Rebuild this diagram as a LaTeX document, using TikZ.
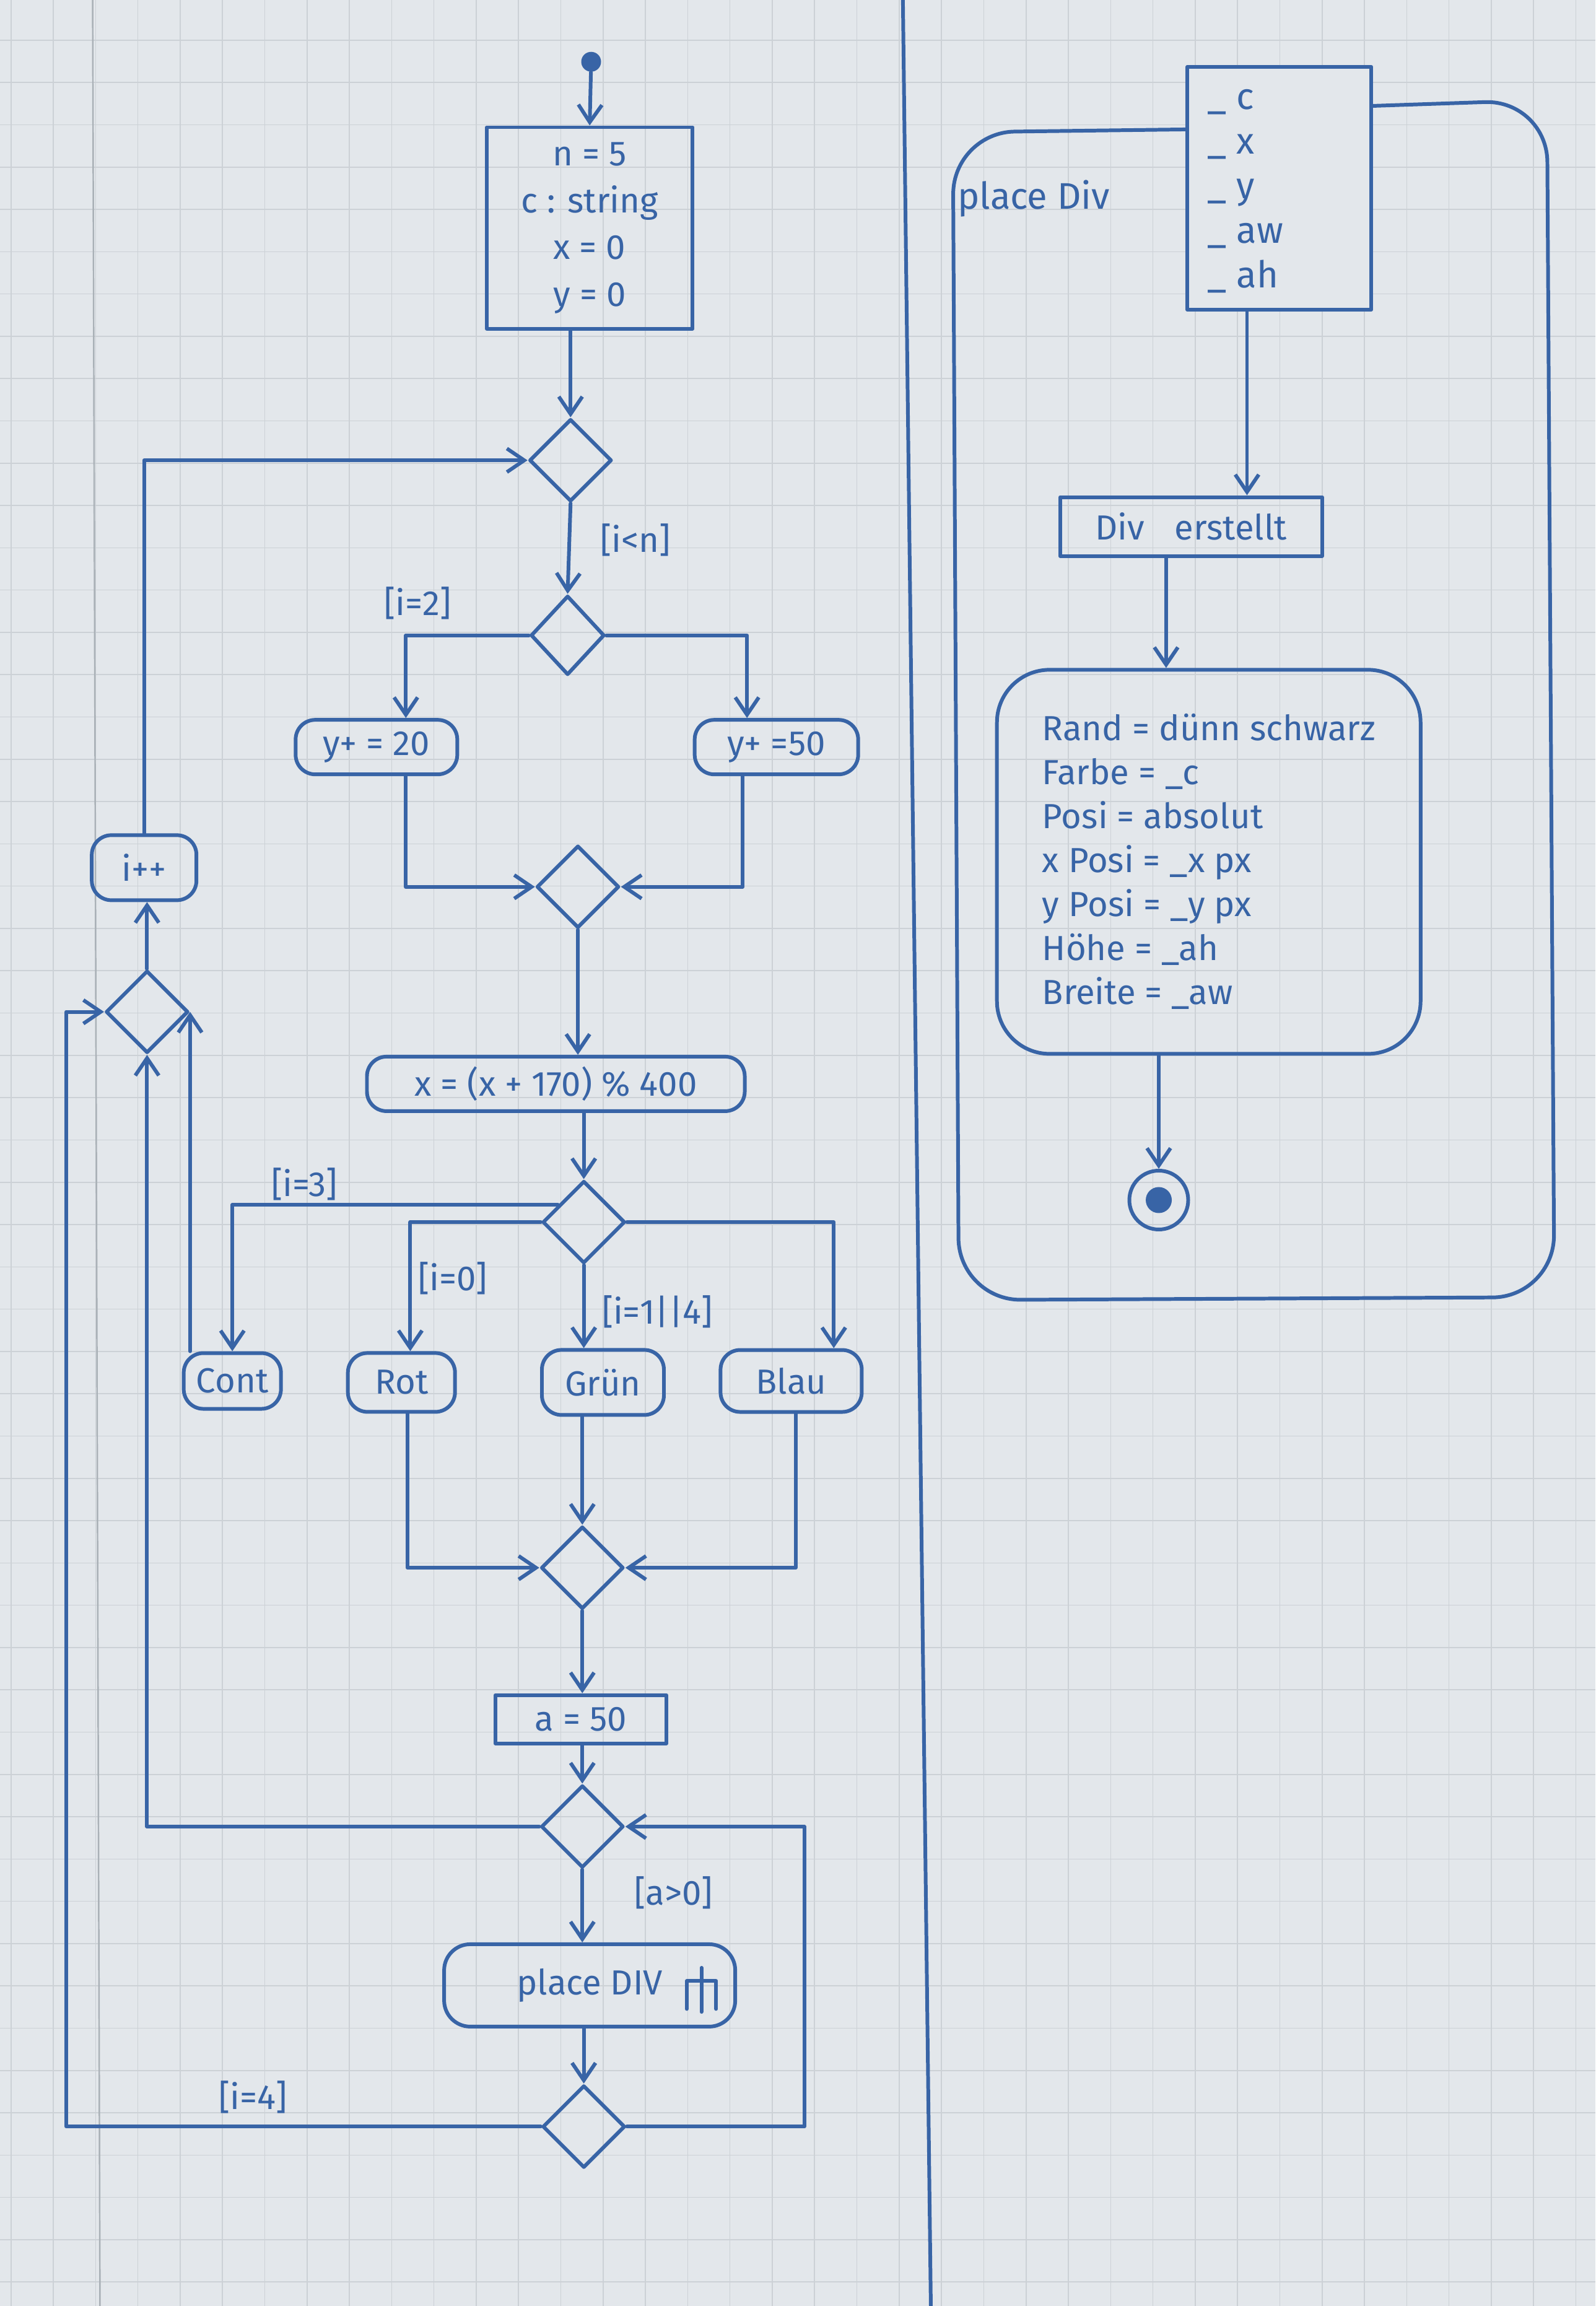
\documentclass[tikz,border=0pt]{standalone}
\usepackage{fontspec}
\setmainfont{Fira Sans}
\usetikzlibrary{shapes.geometric,arrows.meta,calc}
\definecolor{ink}{RGB}{56,100,166}
\definecolor{paper}{RGB}{227,231,235}
\definecolor{gridline}{RGB}{204,209,214}
\definecolor{marginline}{RGB}{170,177,183}

\begin{document}
\begin{tikzpicture}[x=0.02375cm,y=-0.02375cm,
  pen/.style={draw=ink,line width=1.7pt,line cap=round,line join=round},
  flow/.style={pen,-{Straight Barb[length=2.8mm,width=3.8mm]}},
  txt/.style={text=ink,font=\fontsize{16}{20}\selectfont},
  act/.style={pen,txt,rounded corners=9pt,inner sep=0pt},
  stepbox/.style={pen,txt,inner sep=0pt},
  dec/.style={pen,diamond,inner sep=0pt,minimum width=1.33cm,minimum height=1.33cm},
  guard/.style={txt,inner sep=1pt},
]
% squared paper
\fill[paper] (0,0) rectangle (1085,1568);
\useasboundingbox (0,0) rectangle (1085,1568);
\foreach \i in {0,...,37} {\draw[gridline,line width=0.45pt] ({7.5+\i*28.76},0) -- ({7.5+\i*28.76},1568);}
\foreach \j in {1,...,54} {\draw[gridline,line width=0.45pt] (0,{-1.4+\j*28.76}) -- (1085,{-1.4+\j*28.76});}
\draw[marginline,line width=0.7pt] (63,0) -- (68,1568);

% lane divider
\draw[pen] (614,0) -- (633,1568);

% ---------------- left lane: main loop ----------------
\node[fill=ink,circle,minimum size=0.32cm,inner sep=0pt] (start) at (402,42) {};
\node[stepbox,minimum width=3.325cm,minimum height=3.25cm,align=center,
      font=\fontsize{16}{21.5}\selectfont] (init) at (401,155)
  {n = 5\\c : string\\x = 0\\y = 0};

\node[dec] (D1) at (388,313) {};
\node[dec,minimum width=1.19cm,minimum height=1.28cm] (D2) at (386,432) {};
\node[act,minimum width=2.61cm,minimum height=0.88cm] (y20) at (256,508) {y+ = 20};
\node[act,minimum width=2.64cm,minimum height=0.88cm] (y50) at (528,508) {y+ =50};
\node[dec] (M1) at (393,603) {};
\node[act,minimum width=6.1cm,minimum height=0.88cm] (xbox) at (378,737) {x = (x + 170) \% 400};
\node[dec] (D3) at (397,831) {};
\node[act,minimum width=1.57cm,minimum height=0.9cm] (cont) at (158,939) {Cont};
\node[act,minimum width=1.73cm,minimum height=0.95cm] (rot) at (273,940) {Rot};
\node[act,minimum width=1.97cm,minimum height=1.05cm] (gruen) at (410,940) {Grün};
\node[act,minimum width=2.28cm,minimum height=1.0cm] (blau) at (538,939) {Blau};
\node[dec] (M2) at (396,1066) {};
\node[stepbox,minimum width=2.76cm,minimum height=0.78cm] (a50) at (395,1169) {a = 50};
\node[dec] (D4) at (396,1242) {};
\node[act,rounded corners=12pt,minimum width=4.7cm,minimum height=1.33cm] (pdiv) at (401,1350)
  {place DIV\hspace{0.9cm}};
\node[dec] (D5) at (397,1446) {};
\node[dec] (D0) at (100,688) {};
\node[act,minimum width=1.69cm,minimum height=1.05cm] (ipp) at (98,590) {i++};

% call-behaviour rake
\draw[pen] ($(pdiv.center)+(66,16)$) -- ++(0,-19) -- ++(20,0) -- ++(0,19);
\draw[pen] ($(pdiv.center)+(76,-12)$) -- ++(0,30);

% guards
\node[guard] (gIN) at (432,367) {[i<n]};
\node[guard] (gI2) at (284,410) {[i=2]};
\node[guard] (gI3) at (207,805) {[i=3]};
\node[guard] (gI0) at (308,869) {[i=0]};
\node[guard] (gI14) at (447,892) {[i=1||4]};
\node[guard] (gA) at (458,1287) {[a>0]};
\node[guard] (gI4) at (172,1426) {[i=4]};

\coordinate (cR) at (547,1340);
\coordinate (cL) at (45,1000);

% main flow
\draw[flow] (start) -- (init.north);
\draw[flow] (D1.north |- init.south) -- (D1.north);
\draw[flow] (D1.south) -- (D2.north);
\draw[flow] (D2.west) -| ($(y20.north)+(20,0)$);
\draw[flow] (D2.east) -| ($(y50.north)+(-20,0)$);
\draw[flow] ($(y20.south)+(20,0)$) |- (M1.west);
\draw[flow] ($(y50.south)+(-23,0)$) |- (M1.east);
\draw[flow] (M1.south) -- (M1.south |- xbox.north);
\draw[flow] (D3.north |- xbox.south) -- (D3.north);
\draw[flow] ($(D3.west)!0.4!(D3.north)$) -| (cont.north);
\draw[flow] (D3.west) -| ($(rot.north)+(6,0)$);
\draw[flow] (D3.south) -- (D3.south |- gruen.north);
\draw[flow] (D3.east) -| ($(blau.north)+(29,0)$);
\draw[flow] ($(rot.south)+(4,0)$) |- (M2.west);
\draw[flow] (M2.north |- gruen.south) -- (M2.north);
\draw[flow] ($(blau.south)+(3,0)$) |- (M2.east);
\draw[flow] (M2.south) -- (M2.south |- a50.north);
\draw[flow] (D4.north |- a50.south) -- (D4.north);
\draw[flow] (D4.south) -- (D4.south |- pdiv.north);
\draw[flow] (D5.north |- pdiv.south) -- (D5.north);
\draw[flow] (D5.east) -| (cR) |- (D4.east);
\draw[flow] (D5.west) -| (cL) |- (D0.west);
\draw[flow] (D4.west) -| (D0.south);
\draw[flow] (D0.east |- cont.north) -- (D0.east);
\draw[flow] (D0.north) -- (D0.north |- ipp.south);
\draw[flow] (ipp.north) |- (D1.west);

% ---------------- right lane: activity "place Div" ----------------
\node[pen,fill=paper,minimum width=2.97cm,minimum height=3.92cm,inner sep=0pt] (param) at (870,128) {};
\coordinate (fL) at (0,88);
\coordinate (fR) at (0,72);
\draw[pen,rounded corners=1.0cm] (param.west |- fL) -- (648,90) -- (652,884) -- (1057,882) -- (1052,68) -- (param.east |- fR);
\node[txt,anchor=west,align=left,font=\fontsize{17}{20.5}\selectfont] (plist) at (816,130)
  {\_ c\\\_ x\\\_ y\\\_ aw\\\_ ah};
\node[txt,font=\fontsize{17}{20}\selectfont] (flbl) at (703,135) {place Div};

\node[stepbox,minimum width=4.23cm,minimum height=0.95cm] (made) at (810,358) {Div\hspace{0.6em} erstellt};
\node[act,rounded corners=0.85cm,minimum width=6.84cm,minimum height=6.2cm,align=left,
      font=\fontsize{16}{20.2}\selectfont] (props) at (822,586)
  {Rand = dünn schwarz\\Farbe = \_c\\Posi = absolut\\x Posi = \_x px\\y Posi = \_y px\\Höhe = \_ah\\Breite = \_aw};
\node[pen,circle,minimum size=0.95cm,inner sep=0pt] (final) at (788,816) {};
\node[fill=ink,circle,minimum size=0.42cm,inner sep=0pt] (finaldot) at (final.center) {};

\draw[flow] ($(param.south)+(-22,0)$) coordinate (pOut) -- (pOut |- made.north);
\draw[flow] ($(made.south)+(-17,0)$) coordinate (eOut) -- (eOut |- props.north);
\draw[flow] (final.north |- props.south) -- (final.north);
\end{tikzpicture}
\end{document}
